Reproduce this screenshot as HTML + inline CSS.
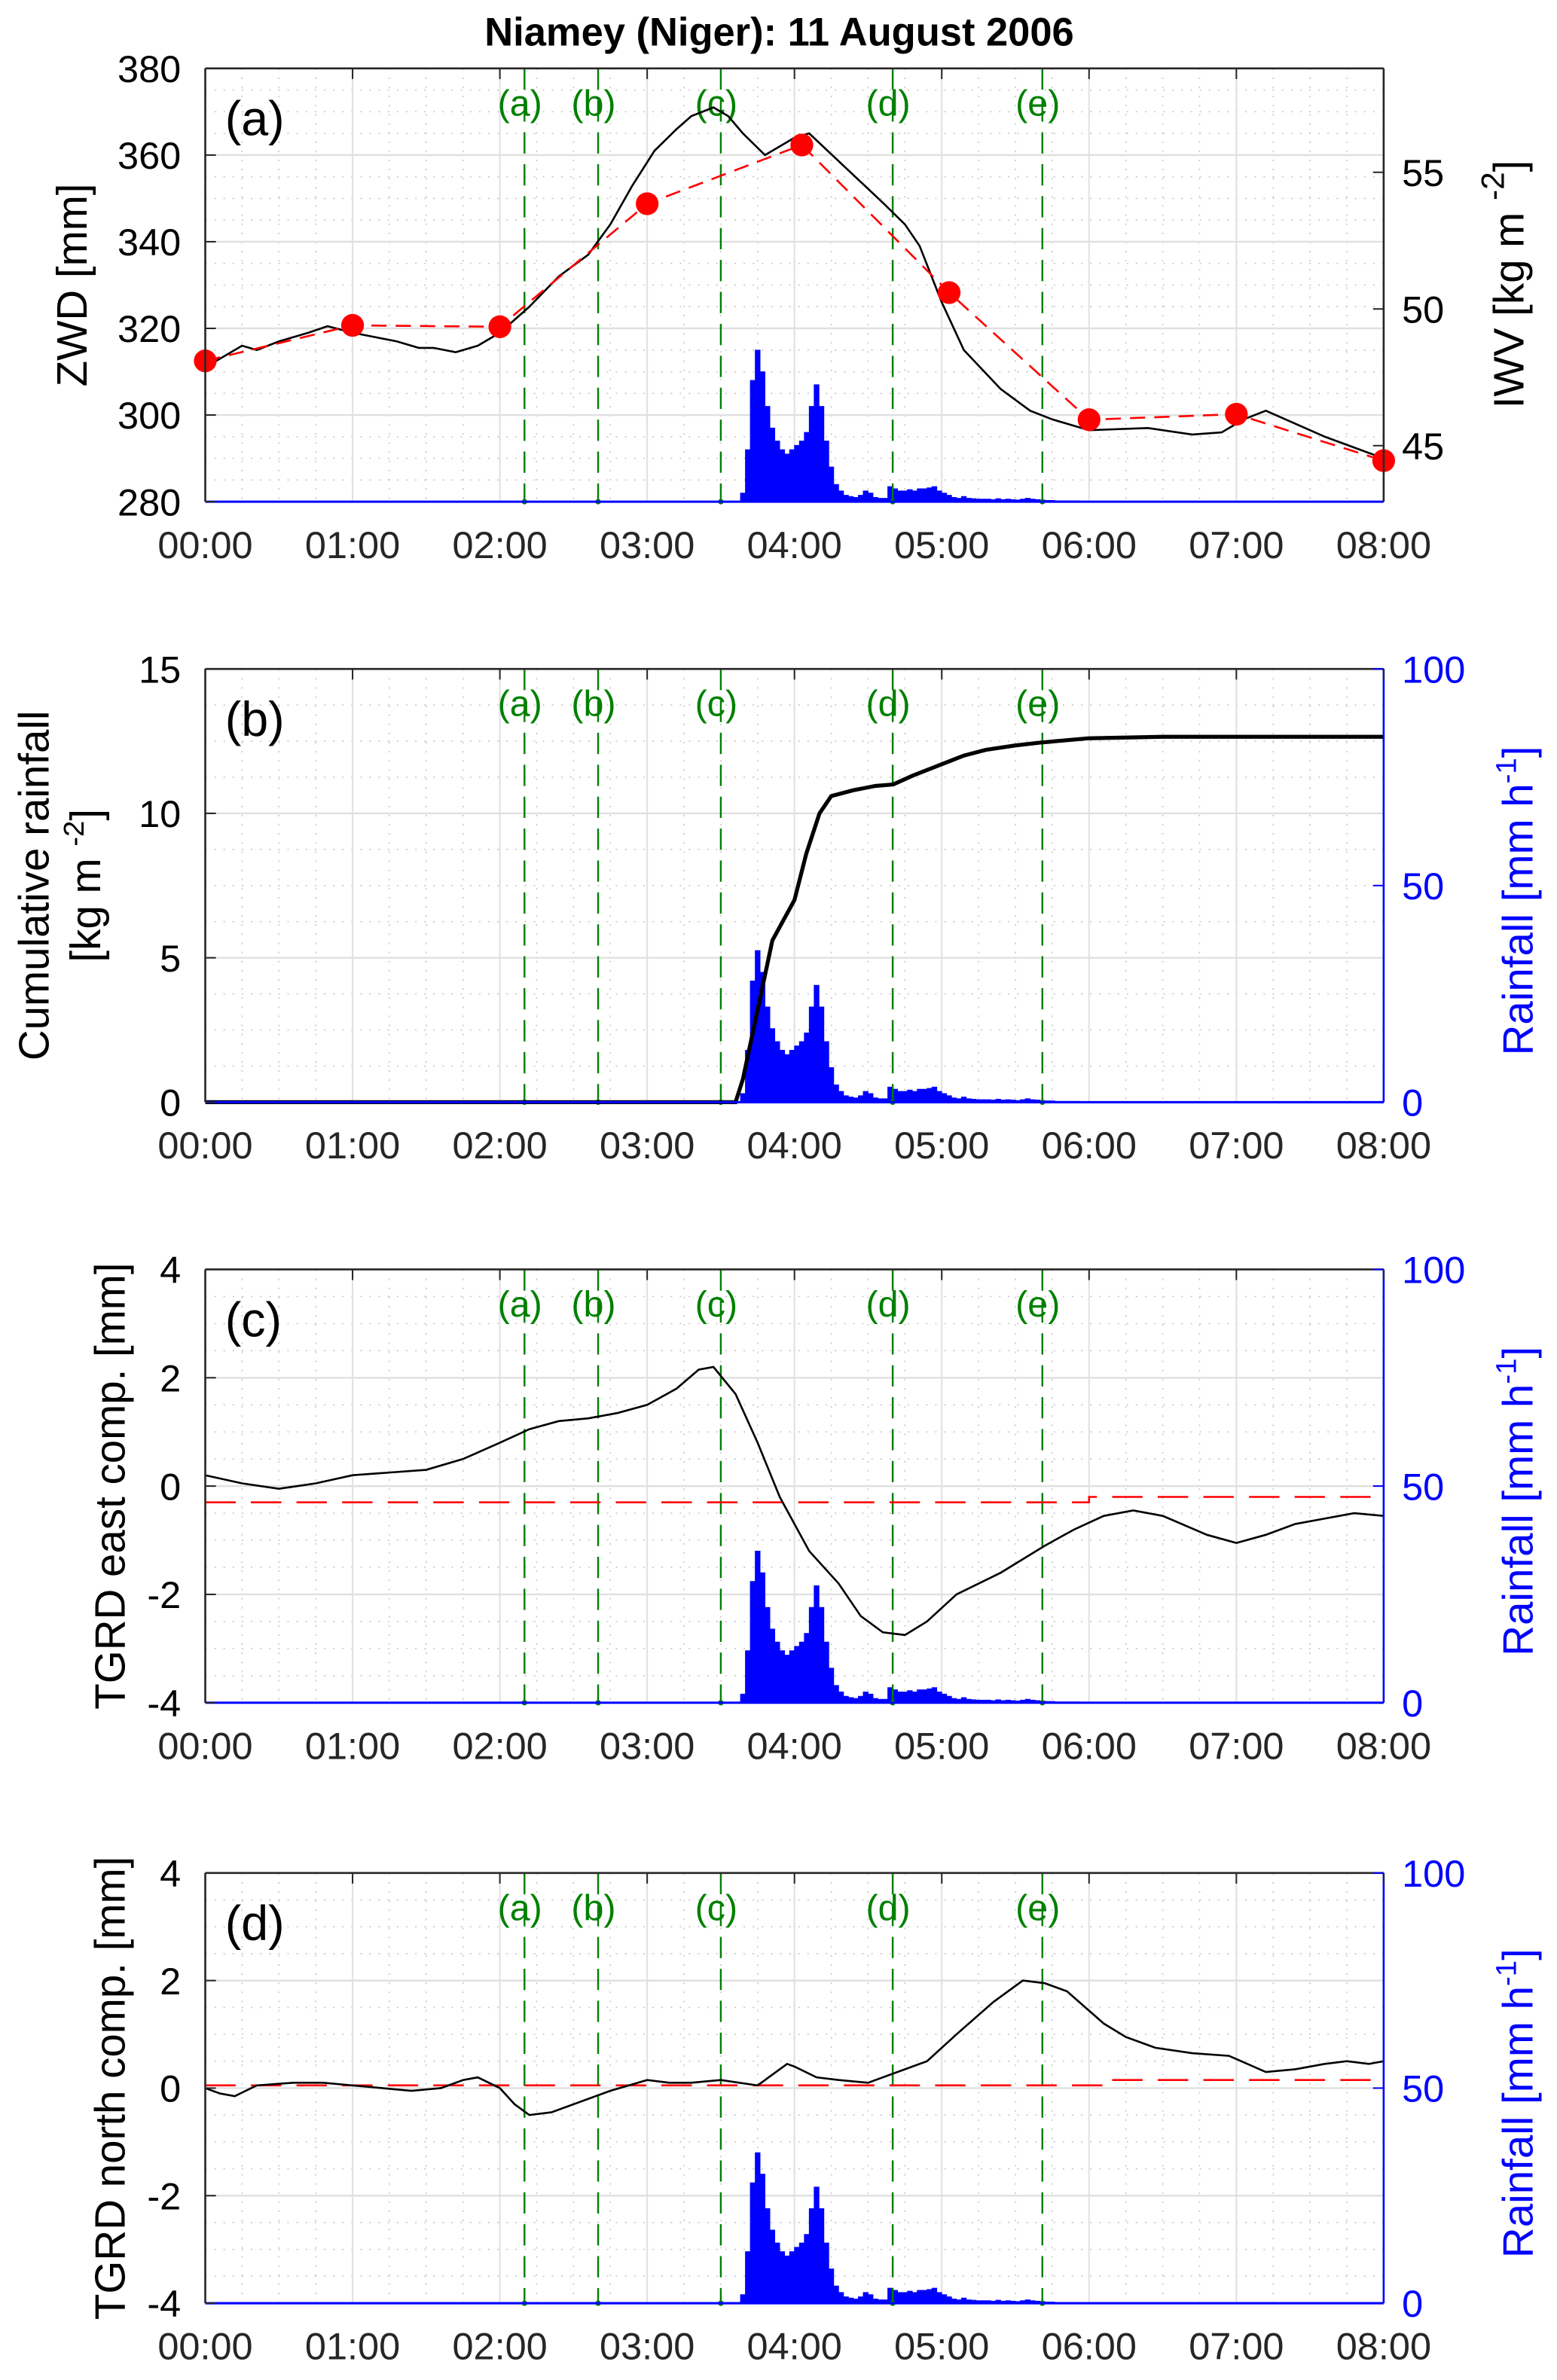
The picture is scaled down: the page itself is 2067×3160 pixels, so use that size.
<!DOCTYPE html>
<html><head><meta charset="utf-8">
<style>
html,body{margin:0;padding:0;background:#fff;}
svg{display:block;}
text{font-family:"Liberation Sans",Arial,sans-serif;}
</style></head>
<body>
<svg id="fig" xmlns="http://www.w3.org/2000/svg" width="2067" height="3160" viewBox="0 0 1024 1565.5" preserveAspectRatio="none"></svg>
<script>
// ---- data ----
const hourTicks = ["00:00","01:00","02:00","03:00","04:00","05:00","06:00","07:00","08:00"];
const eventNames = ["(a)","(b)","(c)","(d)","(e)"];
const eventTimes = [2.167, 2.667, 3.5, 4.667, 5.683];
// ZWD (mm) continuous
const zwdT = [0,0.1,0.25,0.35,0.5,0.6,0.7,0.83,1.0,1.15,1.3,1.45,1.55,1.7,1.85,2.0,2.2,2.4,2.6,2.75,2.9,3.05,3.2,3.3,3.45,3.55,3.65,3.8,4.0,4.1,4.35,4.6,4.75,4.85,5.0,5.15,5.4,5.6,5.75,6.0,6.4,6.7,6.9,7.05,7.2,7.4,7.6,7.8,8.0];
const zwdV = [311,313,316,315,317,318,319,320.5,319,318,317,315.5,315.5,314.5,316,319,325,332,337,344,353,361,366,369,371,369,365,360,364,365,357,349,344,339,326,315,306,301,299,296.5,297,295.5,296,299,301,298,295,292.5,290];
// IWV (kg m-2) hourly points
const iwvT = [0,1,2,3,4.05,5.05,6,7,8];
const iwvV = [48.1,49.4,49.35,53.85,56.0,50.6,45.95,46.15,44.45];
// rainfall rate (mm/h), 2-min steps starting at minute 216
const rainStartMin = 216;
const rainV = [0,2,12,28,35,30,22,17,14,12,11,12,13,14,16,22,27,22,14,8,4,2.5,1.5,1.2,1,1.5,2.5,2,1,0.8,0.8,3.5,3,2.5,2.5,2.8,2.5,3,3,3.2,3.5,2.5,2,1.5,1,0.8,1.2,0.8,0.7,0.6,0.6,0.6,0.5,0.7,0.5,0.6,0.5,0.4,0.6,0.8,0.6,0.5,0.4,0.3,0.3,0.2,0.2,0.2,0.2,0.2,0.1,0.1,0];
// cumulative rainfall (kg m-2)
const cumT = [0,3.6,3.65,3.75,3.85,4.0,4.08,4.17,4.25,4.4,4.55,4.67,4.8,5.0,5.15,5.3,5.5,5.67,6.0,6.5,8.0];
const cumV = [0,0,0.8,3.2,5.6,7.0,8.6,10.0,10.6,10.8,10.95,11.0,11.3,11.7,12.0,12.2,12.35,12.45,12.6,12.65,12.65];
// TGRD east (mm)
const eastT = [0,0.25,0.5,0.75,1.0,1.25,1.5,1.75,2.0,2.2,2.4,2.6,2.8,3.0,3.2,3.35,3.45,3.6,3.75,3.9,4.1,4.3,4.45,4.6,4.75,4.9,5.1,5.4,5.7,5.9,6.1,6.3,6.5,6.8,7.0,7.2,7.4,7.6,7.8,8.0];
const eastV = [0.2,0.05,-0.05,0.05,0.2,0.25,0.3,0.5,0.8,1.05,1.2,1.25,1.35,1.5,1.8,2.15,2.2,1.7,0.8,-0.2,-1.2,-1.8,-2.4,-2.7,-2.75,-2.5,-2.0,-1.6,-1.1,-0.8,-0.55,-0.45,-0.55,-0.9,-1.05,-0.9,-0.7,-0.6,-0.5,-0.55];
const eastRefT = [0,6.0,6.0,8.0];
const eastRefV = [-0.3,-0.3,-0.2,-0.2];
// TGRD north (mm)
const northT = [0,0.1,0.2,0.35,0.6,0.8,1.0,1.4,1.6,1.75,1.85,2.0,2.1,2.2,2.35,2.5,2.75,3.0,3.15,3.3,3.5,3.75,3.95,4.0,4.15,4.3,4.5,4.7,4.9,5.1,5.35,5.55,5.7,5.85,6.1,6.25,6.45,6.7,6.95,7.2,7.4,7.6,7.75,7.9,8.0];
const northV = [0,-0.1,-0.15,0.05,0.1,0.1,0.05,-0.05,0,0.15,0.2,0,-0.3,-0.5,-0.45,-0.3,-0.05,0.15,0.1,0.1,0.15,0.05,0.45,0.4,0.2,0.15,0.1,0.3,0.5,1.0,1.6,2.0,1.95,1.8,1.2,0.95,0.75,0.65,0.6,0.3,0.35,0.45,0.5,0.45,0.5];
const northRefT = [0,6.1,6.1,8.0];
const northRefV = [0.05,0.05,0.15,0.15];

// ---- layout ----
const NS="http://www.w3.org/2000/svg";
const svg=document.getElementById('fig');
const X0=135, X1=910;
const TICKF=25, TITLEF=28;
function xs(h){return X0+(X1-X0)*h/8;}
function el(tag,attrs,parent){const e=document.createElementNS(NS,tag);for(const k in attrs)e.setAttribute(k,attrs[k]);(parent||svg).appendChild(e);return e;}
function txt(s,attrs,parent){const e=el('text',attrs,parent);e.textContent=s;return e;}
function ysc(top,bot,lo,hi){return v=>bot-(bot-top)*(v-lo)/(hi-lo);}

const title=txt("Niamey (Niger): 11 August 2006",{x:(X0+X1)/2-10,y:30,'text-anchor':'middle','font-size':26,'font-weight':'bold',fill:'#000'});



function panel(id,top,bot,opt){
  const g=el('g',{});
  
  
  const yL=ysc(top,bot,opt.lo,opt.hi);
  const yR=ysc(top,bot,0,100);
  for(let m=1;m<32;m++){ if(m%4===0) continue; const x=xs(m/4);
    el('line',{x1:x,y1:top,x2:x,y2:bot,stroke:'#c8c8c8','stroke-width':0.8,'stroke-dasharray':'1 5'},g);}
  for(const v of opt.minor){ const y=yL(v);
    el('line',{x1:X0,y1:y,x2:X1,y2:y,stroke:'#c8c8c8','stroke-width':0.8,'stroke-dasharray':'1 5'},g);}
  for(let h=1;h<8;h++){el('line',{x1:xs(h),y1:top,x2:xs(h),y2:bot,stroke:'#e0e0e0','stroke-width':1},g);}
  for(const v of opt.ticks){ if(v===opt.lo||v===opt.hi) continue; el('line',{x1:X0,y1:yL(v),x2:X1,y2:yL(v),stroke:'#e0e0e0','stroke-width':1.2},g);}
  const rg=el('g',{},g);
  
  
  let d='';
  rainV.forEach((v,i)=>{const h=(rainStartMin+2*i)/60; d+=`M${xs(h).toFixed(2)},${bot}L${xs(h).toFixed(2)},${yR(v).toFixed(2)}L${xs(h+2/60).toFixed(2)},${yR(v).toFixed(2)}L${xs(h+2/60).toFixed(2)},${bot}Z`;});
  el('path',{d:d,fill:'#0000ff',stroke:'#0000ff','stroke-width':0.4},rg);
  eventTimes.forEach((t,i)=>{
    const l=el('line',{x1:xs(t),y1:top,x2:xs(t),y2:bot,stroke:'#008000','stroke-width':1.2,'stroke-dasharray':'14 7'},g);
    
    
    el('circle',{cx:xs(t),cy:bot,r:1.8,fill:'#008000'},g);
    const lt=txt(eventNames[i],{x:xs(t)-3,y:top+31,'text-anchor':'middle','font-size':24,fill:'#008000'},g);
    
    
  });
  opt.draw(g,yL);
  el('line',{x1:X0,y1:top,x2:X1,y2:top,stroke:'#262626','stroke-width':1.3},g);
  el('line',{x1:X0,y1:top,x2:X0,y2:bot,stroke:'#262626','stroke-width':1.3},g);
  el('line',{x1:X0,y1:bot,x2:X1,y2:bot,stroke:'#0000ff','stroke-width':1.5},g);
  el('line',{x1:X1,y1:top,x2:X1,y2:bot,stroke:opt.rightColor,'stroke-width':1.3},g);
  hourTicks.forEach((s,i)=>{
    el('line',{x1:xs(i),y1:top,x2:xs(i),y2:top+7,stroke:'#262626','stroke-width':1},g);
    const t=txt(s,{x:xs(i),y:bot+37,'text-anchor':'middle','font-size':TICKF,fill:'#262626'},g);
    
    
  });
  opt.ticks.forEach(v=>{
    el('line',{x1:X0,y1:yL(v),x2:X0+7,y2:yL(v),stroke:'#262626','stroke-width':1},g);
    const t=txt(String(v),{x:X0-16,y:yL(v)+9,'text-anchor':'end','font-size':TICKF,fill:'#000'},g);
    
    
  });
  opt.right(g);
  const lines=opt.ltitle;
  lines.forEach((s,i)=>{
    const cx=opt.lx+i*34, cy=(top+bot)/2;
    const t=txt('',{x:cx,y:cy,'text-anchor':'middle','font-size':TITLEF,fill:'#000',transform:`rotate(-90 ${cx} ${cy})`},g);
    t.innerHTML=s;
    
    
  });
  const pl=txt('('+id+')',{x:148,y:top+44,'font-size':32,fill:'#000'},g);
  
  
  return {g,yL,yR};
}
function linePath(T,V,y){return T.map((t,i)=>(i?'L':'M')+xs(t).toFixed(2)+','+y(V[i]).toFixed(2)).join('');}
function rainRight(top,bot){return g=>{
  const yR=ysc(top,bot,0,100);
  [0,50,100].forEach(v=>{
    el('line',{x1:X1-7,y1:yR(v),x2:X1,y2:yR(v),stroke:'#0000ff','stroke-width':1},g);
    const t=txt(String(v),{x:X1+12,y:yR(v)+9,'font-size':TICKF,fill:'#0000ff'},g);
    
    
  });
  const cx=1008, cy=(top+bot)/2+10;
  const t=txt('',{x:cx,y:cy,'text-anchor':'middle','font-size':TITLEF,fill:'#0000ff',transform:`rotate(-90 ${cx} ${cy})`},g);
  t.innerHTML='Rainfall [mm h<tspan dy="-11" font-size="19">-1</tspan><tspan dy="11">]</tspan>';
  
  
};}

panel('a',45,330,{lo:280,hi:380,ticks:[280,300,320,340,360,380],minor:[285,290,295,305,310,315,325,330,335,345,350,355,365,370,375],rightColor:'#262626',
  ltitle:['ZWD [mm]'],lx:57,
  draw:(g,y)=>{
    const p=el('path',{d:linePath(zwdT,zwdV,y),fill:'none',stroke:'#000','stroke-width':1.3},g);
    
    
    const yI=ysc(45,330,42.95,58.8);
    const r=el('path',{d:linePath(iwvT,iwvV,yI),fill:'none',stroke:'#ff0000','stroke-width':1.3,'stroke-dasharray':'10 6'},g);
    
    
    iwvT.forEach((t,i)=>{const c=el('circle',{cx:xs(t),cy:yI(iwvV[i]),r:7.5,fill:'#ff0000'},g);
      
      });
  },
  right:g=>{
    const yI=ysc(45,330,42.95,58.8);
    [45,50,55].forEach(v=>{
      el('line',{x1:X1-7,y1:yI(v),x2:X1,y2:yI(v),stroke:'#262626','stroke-width':1},g);
      const t=txt(String(v),{x:X1+12,y:yI(v)+9,'font-size':TICKF,fill:'#000'},g);
      
      
    });
    const cx=1002, cy=187;
    const t=txt('',{x:cx,y:cy,'text-anchor':'middle','font-size':TITLEF,fill:'#000',transform:`rotate(-90 ${cx} ${cy})`},g);
    t.innerHTML='IWV [kg m <tspan dy="-13" font-size="21">-2</tspan><tspan dy="13">]</tspan>';
    
    
  }});

panel('b',440,725,{lo:0,hi:15,ticks:[0,5,10,15],minor:[1.25,2.5,3.75,6.25,7.5,8.75,11.25,12.5,13.75],rightColor:'#0000ff',
  ltitle:['Cumulative rainfall','[kg m <tspan dy="-11" font-size="19">-2</tspan><tspan dy="11">]</tspan>'],lx:32,
  draw:(g,y)=>{
    const p=el('path',{d:linePath(cumT,cumV,y),fill:'none',stroke:'#000','stroke-width':2.6},g);
    
    
  },
  right:rainRight(440,725)});

panel('c',835,1120,{lo:-4,hi:4,ticks:[-4,-2,0,2,4],minor:[-3.5,-3,-2.5,-1.5,-1,-0.5,0.5,1,1.5,2.5,3,3.5],rightColor:'#0000ff',
  ltitle:['TGRD east comp. [mm]'],lx:82,
  draw:(g,y)=>{
    const r=el('path',{d:linePath(eastRefT,eastRefV,y),fill:'none',stroke:'#ff0000','stroke-width':1.3,'stroke-dasharray':'20 10'},g);
    
    
    const p=el('path',{d:linePath(eastT,eastV,y),fill:'none',stroke:'#000','stroke-width':1.3},g);
    
    
  },
  right:rainRight(835,1120)});

panel('d',1232,1515,{lo:-4,hi:4,ticks:[-4,-2,0,2,4],minor:[-3.5,-3,-2.5,-1.5,-1,-0.5,0.5,1,1.5,2.5,3,3.5],rightColor:'#0000ff',
  ltitle:['TGRD north comp. [mm]'],lx:82,
  draw:(g,y)=>{
    const r=el('path',{d:linePath(northRefT,northRefV,y),fill:'none',stroke:'#ff0000','stroke-width':1.3,'stroke-dasharray':'20 10'},g);
    
    
    const p=el('path',{d:linePath(northT,northV,y),fill:'none',stroke:'#000','stroke-width':1.3},g);
    
    
  },
  right:rainRight(1232,1515)});
</script>
</body></html>
